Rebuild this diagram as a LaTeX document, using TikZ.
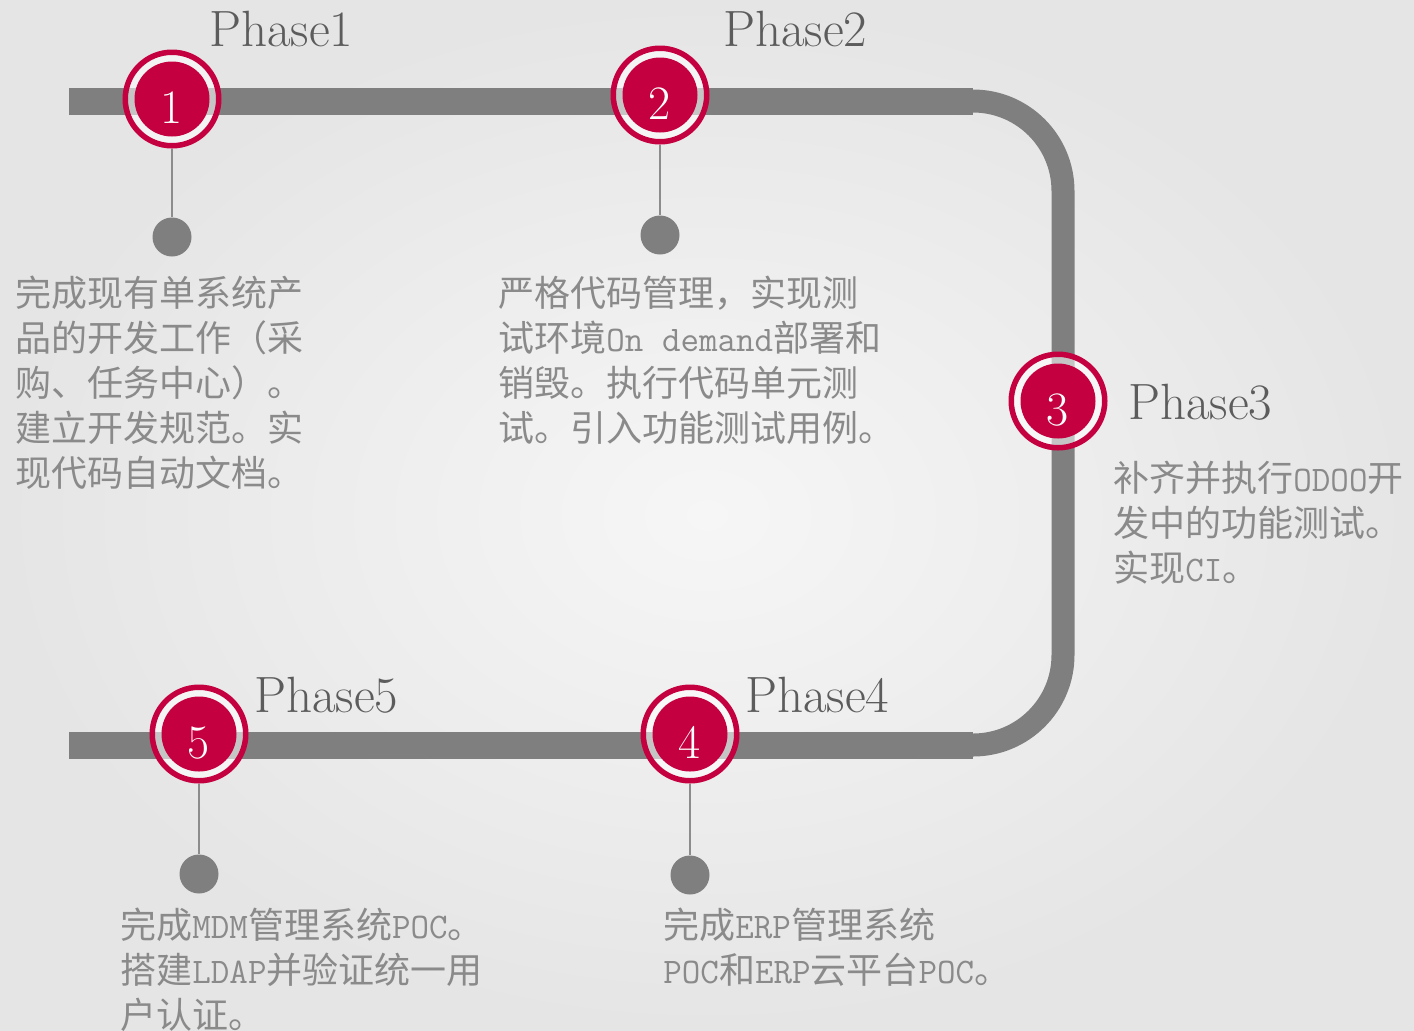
\documentclass[tikz,border=0pt]{standalone}
\usepackage{fontspec}
\newfontfamily\cjk{Noto Sans CJK SC}
\newcommand\latn[1]{{\ttfamily #1}}
\definecolor{crim}{RGB}{196,0,64}
\definecolor{trk}{RGB}{127,127,127}
\definecolor{txt}{RGB}{138,138,138}
\definecolor{ph}{RGB}{92,92,92}
\definecolor{bgin}{RGB}{246,246,246}
\definecolor{bgout}{RGB}{229,229,229}
\begin{document}
\begin{tikzpicture}[x=0.5pt,y=-0.5pt,
  track/.style={draw=trk,line width=11.5pt,rounded corners=45pt},
  ring/.style={circle,draw=crim,line width=2.75pt,minimum size=46.75pt,inner sep=0pt,fill=white,fill opacity=0.55},
  disk/.style={circle,fill=crim,minimum size=37.5pt,inner sep=0pt},
  num/.style={anchor=base,text=white,font=\fontsize{24pt}{24pt}\selectfont,inner sep=0pt},
  dot/.style={circle,fill=trk,minimum size=19.5pt,inner sep=0pt},
  conn/.style={draw=trk!90,line width=1pt},
  phase/.style={anchor=base west,text=ph,font=\fontsize{25.5pt}{25.5pt}\selectfont,inner sep=0pt},
  body/.style={anchor=north west,text=txt,align=left,inner sep=0pt,font=\cjk\fontsize{18pt}{22.4pt}\selectfont}]
\useasboundingbox (0,0) rectangle (1414,1030);
\shade[inner color=bgin,outer color=bgout] (0,0) rectangle (1414,1030);
% track
\draw[track] (69,101) -- (1063,101) -- (1063,745) -- (69,745);
\fill[trk] (69,87.5) rectangle (973,114.5);
\fill[trk] (69,731.5) rectangle (973,758.5);
% circles
\foreach \n/\x/\y in {1/172/99, 2/660/95, 3/1058/401, 4/690/734, 5/199/734}{
  \node[ring] (c\n) at (\x,\y) {};
  \node[disk] (k\n) at (c\n.center) {};
  \node[num] (t\n) at ([yshift=-12pt]k\n.center) {\n};
}
% dots and connectors
\node[dot] (d1) at (172,237) {};
\node[dot] (d2) at (660,235) {};
\node[dot] (d4) at (690,875) {};
\node[dot] (d5) at (199,874) {};
\draw[conn] (c1.south) -- (d1.north);
\draw[conn] (c2.south) -- (d2.north);
\draw[conn] (c4.south) -- (d4.north);
\draw[conn] (c5.south) -- (d5.north);
% phase labels
\node[phase] (p1) at (209,46) {Phase1};
\node[phase] (p2) at (723,46) {Phase2};
\node[phase] (p3) at (1128,419) {Phase3};
\node[phase] (p4) at (745,712) {Phase4};
\node[phase] (p5) at (254,712) {Phase5};
% texts
\node[body] (b1) at (15,276) {完成现有单系统产\\品的开发工作（采\\购、任务中心）。\\建立开发规范。实\\现代码自动文档。};
\node[body] (b2) at (498,276) {严格代码管理，实现测\\试环境\latn{On demand}部署和\\销毁。执行代码单元测\\试。引入功能测试用例。};
\node[body] (b3) at (1113,461) {补齐并执行\latn{ODOO}开\\发中的功能测试。\\实现\latn{CI}。};
\node[body] (b4) at (663,908) {完成\latn{ERP}管理系统\\\latn{POC}和\latn{ERP}云平台\latn{POC}。};
\node[body] (b5) at (120,908) {完成\latn{MDM}管理系统\latn{POC}。\\搭建\latn{LDAP}并验证统一用\\户认证。};
\end{tikzpicture}
\end{document}
